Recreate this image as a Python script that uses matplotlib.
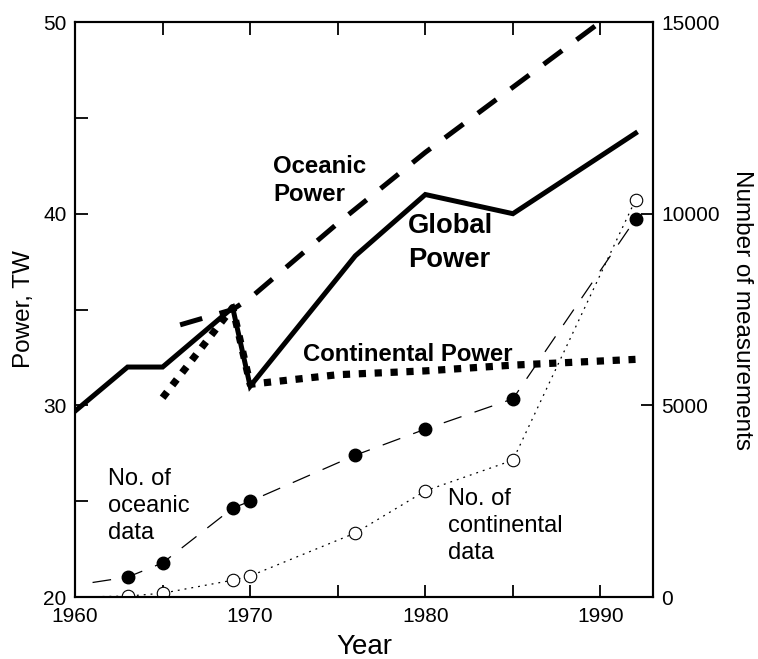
import matplotlib
matplotlib.use('Agg')
import matplotlib.pyplot as plt

plt.rcParams['font.family'] = ['Liberation Sans', 'DejaVu Sans']

# power estimates, TW (left axis)
global_years = [1960, 1963, 1965, 1969, 1970, 1976, 1980, 1985, 1992]
global_power = [29.7, 32.0, 32.0, 35.1, 31.0, 37.8, 41.0, 40.0, 44.2]

oceanic_years = [1966, 1969, 1970, 1975, 1980, 1985, 1990]
oceanic_power = [34.2, 35.0, 35.6, 39.5, 43.2, 46.6, 50.0]

cont_years = [1965, 1969, 1970, 1975, 1980, 1985, 1992]
cont_power = [30.4, 35.1, 31.1, 31.6, 31.8, 32.1, 32.4]

# number of measurements (right axis)
ocean_n_years = [1961, 1963, 1965, 1969, 1970, 1976, 1980, 1985, 1992]
ocean_n = [380, 520, 890, 2320, 2500, 3700, 4380, 5170, 9860]

cont_n_years = [1960, 1963, 1965, 1969, 1970, 1976, 1980, 1985, 1992]
cont_n = [0, 25, 100, 440, 550, 1670, 2770, 3570, 10360]

fig = plt.figure(figsize=(7.58, 6.59), dpi=100)
ax = fig.add_axes([0.099, 0.094, 0.7625, 0.8726])
ax2 = ax.twinx()

ax.plot(global_years, global_power, color='black', lw=3.6,
        solid_joinstyle='miter', zorder=3)
ax.plot(oceanic_years, oceanic_power, color='black', lw=3.6,
        dashes=(4.6, 3.6), zorder=3)
ax.plot(cont_years, cont_power, color='black', lw=5.2,
        dashes=(1.0, 1.2), zorder=3)

ax2.plot(ocean_n_years, ocean_n, color='black', lw=0.9, dashes=(15, 11),
         marker='o', ms=9, mfc='black', mec='black',
         markevery=list(range(1, len(ocean_n))))
ax2.plot(cont_n_years, cont_n, color='black', lw=0.9, dashes=(1.5, 4),
         marker='o', ms=9, mfc='white', mec='black', mew=0.8,
         markevery=list(range(1, len(cont_n))))

ax.set_xlim(1960, 1993)
ax.set_ylim(20, 50)
ax2.set_ylim(0, 15000)

ax.set_xticks(range(1960, 1991, 5))
ax.set_xticklabels(['1960', '', '1970', '', '1980', '', '1990'])
ax.set_yticks(range(20, 51, 5))
ax.set_yticklabels(['20', '', '30', '', '40', '', '50'])
ax2.set_yticks([0, 5000, 10000, 15000])

ax.tick_params(axis='x', direction='in', top=True, length=9, width=1.3,
               labelsize=15, pad=7)
ax.tick_params(axis='y', direction='in', length=9, width=1.3,
               labelsize=15, pad=6)
ax2.tick_params(axis='y', direction='in', length=9, width=1.3,
                labelsize=15, pad=6)

for a in (ax, ax2):
  for s in a.spines.values():
    s.set_linewidth(1.5)

ax.set_xlabel('Year', fontsize=20, labelpad=6)
ax.set_ylabel('Power, TW', fontsize=17.5, labelpad=6)
ax2.set_ylabel('Number of measurements', fontsize=17.5, rotation=270,
               labelpad=24)

ax.text(1971.3, 43.06, 'Oceanic\nPower', fontsize=17.3, fontweight='bold',
        ha='left', va='top', linespacing=1.3)
ax.text(1979.0, 40.04, 'Global\nPower', fontsize=19.7, fontweight='bold',
        ha='left', va='top', linespacing=1.42)
ax.text(1973.0, 32.32, 'Continental Power', fontsize=17.2, fontweight='bold',
        ha='left', va='baseline')
ax.text(1961.9, 26.73, 'No. of\noceanic\ndata', fontsize=17,
        ha='left', va='top', linespacing=1.3)
ax.text(1981.3, 25.69, 'No. of\ncontinental\ndata', fontsize=17,
        ha='left', va='top', linespacing=1.3)

fig.savefig('out.png', dpi=100)
